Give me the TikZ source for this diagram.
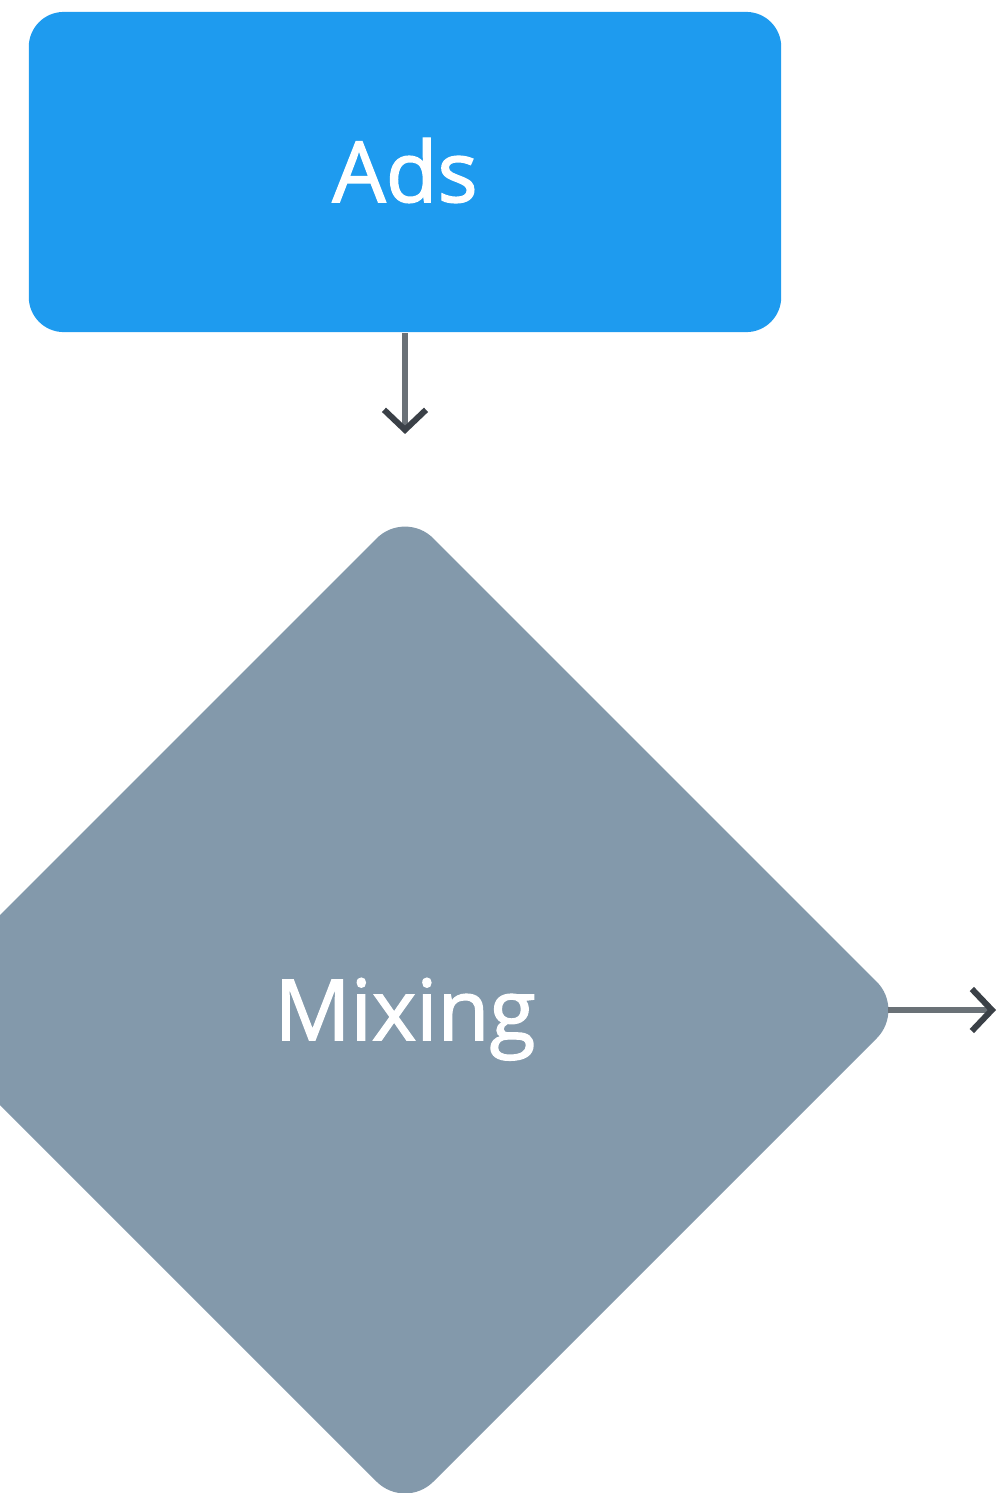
\documentclass[tikz,border=0pt]{standalone}
\usepackage{fontspec}
\setmainfont{Open Sans}
\newfontfamily\labelfont{Open Sans}[FakeBold=1.6]
\usetikzlibrary{shapes.geometric,arrows.meta}
\definecolor{adsblue}{HTML}{1E9BEF}
\definecolor{mixgray}{HTML}{8399AB}
\definecolor{linegray}{HTML}{6A7177}
\definecolor{tipgray}{HTML}{3A4047}
\tikzset{
  label text/.style={text=white, font=\labelfont\fontsize{24}{29}\selectfont,
    text height=17.1pt, text depth=0pt, inner sep=0pt},
  sourcebox/.style={label text, rectangle, fill=adsblue, draw=none,
    rounded corners=0.35cm, minimum width=7.52cm, minimum height=3.2cm},
  decision/.style={label text, diamond, aspect=1, fill=mixgray, draw=none,
    rounded corners=0.4cm, minimum width=10cm, minimum height=10cm},
  conn/.style={draw=linegray, line width=0.06cm,
    -{Straight Barb[length=0.2cm, width=0.42cm, color=tipgray, line width=0.06cm]}},
}
\begin{document}
\begin{tikzpicture}[x=0.01cm, y=-0.01cm]
  \useasboundingbox (0,0) rectangle (999,1493);
  \clip (0,0) rectangle (999,1493);
  \node[sourcebox] (ads) at (405,172) {Ads};
  \node[decision] (mix) at (405,1010) {Mixing};
  \coordinate (out) at (996,1010);
  \draw[conn, shorten >=0.75cm] (ads.south) -- (mix.north);
  \draw[conn] ([xshift=-0.18cm]mix.east) -- (out);
\end{tikzpicture}
\end{document}
